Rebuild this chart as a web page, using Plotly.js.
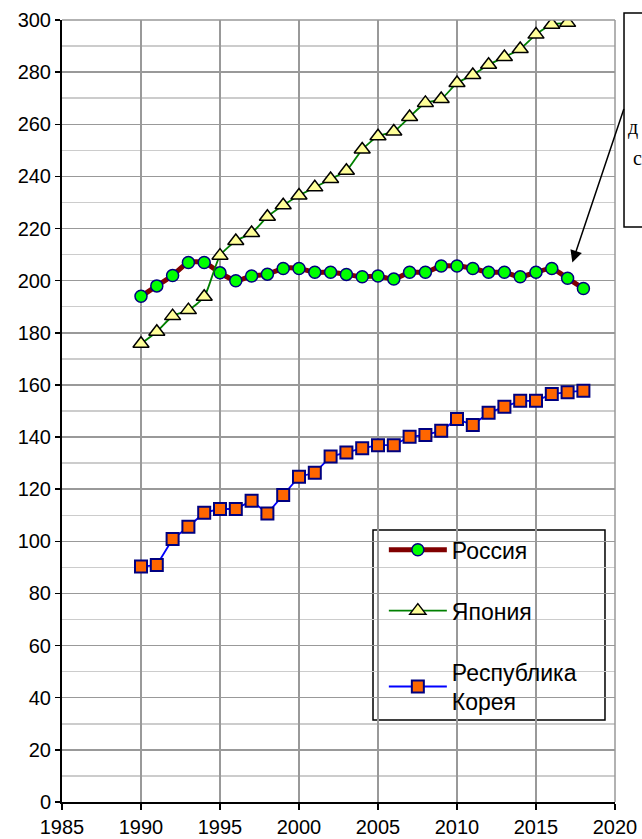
<!DOCTYPE html>
<html>
<head>
<meta charset="utf-8">
<script src="https://cdn.plot.ly/plotly-3.0.1.min.js"></script>
<style>html,body{margin:0;padding:0;background:#fff;}#chart{width:642px;height:839px;}</style>
</head>
<body>
<div id="chart"></div>
<script>
const years = [1990,1991,1992,1993,1994,1995,1996,1997,1998,1999,2000,2001,2002,2003,2004,2005,2006,2007,2008,2009,2010,2011,2012,2013,2014,2015,2016,2017,2018];
const russia = [194,198,202,207,207,203,200,201.8,202.5,204.7,204.7,203.2,203.2,202.4,201.5,201.8,200.6,203.2,203.2,205.6,205.6,204.7,203.2,203.2,201.5,203.2,204.7,200.9,197];
const japanYears = [1990,1991,1992,1993,1994,1995,1996,1997,1998,1999,2000,2001,2002,2003,2004,2005,2006,2007,2008,2009,2010,2011,2012,2013,2014,2015,2016,2017];
const japan = [175.8,180.4,186.4,188.7,193.8,209.6,215.2,218.3,224.5,228.9,232.7,235.8,239,242.2,250.3,255.4,257.2,262.8,268.2,269.7,275.8,278.9,282.8,285.8,288.9,294.4,298.2,298.9];
const korea = [90.3,90.9,100.9,105.6,111,112.4,112.4,115.6,110.7,117.8,124.8,126.3,132.5,134.1,135.7,136.9,136.9,140.1,140.8,142.4,146.9,144.6,149.3,151.6,153.9,153.9,156.5,157.2,157.8];
const names = ["Россия","Япония","Республика<br>Корея"];
const xTicks = [1985,1990,1995,2000,2005,2010,2015,2020];
const yTicks = [0,20,40,60,80,100,120,140,160,180,200,220,240,260,280,300];

const traces = [
  {x: years, y: russia, name: names[0], type: 'scatter', mode: 'lines+markers', legendgroup: 'a',
   line: {color: '#800000', width: 5, shape: 'spline', smoothing: 0.6},
   marker: {symbol: 'circle', size: 12, color: '#00ff00', line: {color: '#000080', width: 1.5}}},
  {x: japanYears, y: japan, name: names[1], type: 'scatter', mode: 'lines+markers', legendgroup: 'b',
   line: {color: '#008000', width: 1.8, shape: 'spline', smoothing: 0.6},
   marker: {symbol: 'triangle-up', size: 14, color: '#ffff99', line: {color: '#000000', width: 1.5}}},
  {x: years, y: korea, name: names[2], type: 'scatter', mode: 'lines+markers', legendgroup: 'c',
   line: {color: '#0000ff', width: 1.8},
   marker: {symbol: 'square', size: 12, color: '#ff6600', line: {color: '#000080', width: 2}}}
];

const sansFont = 'Liberation Sans, Arial, sans-serif';
const layout = {
  width: 642, height: 839,
  margin: {l: 62, r: 27, t: 20, b: 37},
  paper_bgcolor: '#ffffff', plot_bgcolor: '#ffffff',
  font: {family: sansFont, size: 20, color: '#000'},
  showlegend: true,
  legend: {x: 0.582, y: 0.350, xanchor: 'left', yanchor: 'top', bgcolor: 'rgba(0,0,0,0)',
           borderwidth: 0, traceorder: 'grouped', tracegroupgap: 28,
           itemwidth: 58, font: {size: 23, family: sansFont}},
  xaxis: {range: [1985, 2020], tickvals: xTicks, ticktext: xTicks.map(String), showgrid: true,
          gridcolor: '#999999', gridwidth: 1.5, zeroline: false, showline: true, linecolor: '#000',
          linewidth: 2, ticks: 'outside', ticklen: 6, tickcolor: '#000', tickwidth: 1.5,
          fixedrange: true},
  yaxis: {range: [0, 300], tickvals: yTicks, ticktext: yTicks.map(String), showgrid: true,
          gridcolor: '#999999', gridwidth: 1.5, zeroline: false, showline: true, linecolor: '#000',
          linewidth: 2, ticks: 'outside', ticklen: 5, tickcolor: '#000', tickwidth: 1.5,
          minor: {dtick: 10, showgrid: true, gridcolor: '#cccccc', gridwidth: 1.5, ticks: ''},
          fixedrange: true},
  shapes: [
    {type: 'line', xref: 'paper', yref: 'paper', x0: 0, x1: 1, y0: 1, y1: 1, line: {color: '#999999', width: 1.5}},
    {type: 'line', xref: 'paper', yref: 'paper', x0: 1, x1: 1, y0: 0, y1: 1, line: {color: '#999999', width: 1.5}},
    {type: 'rect', xref: 'paper', yref: 'paper', x0: 0.5624, x1: 0.9819, y0: 0.1049, y1: 0.3478,
     layer: 'between', line: {color: '#000', width: 1.5}, fillcolor: '#ffffff'},
    {type: 'rect', xref: 'paper', yref: 'paper', x0: 1.0163, x1: 1.2, y0: 0.7353, y1: 1.009,
     line: {color: '#000', width: 1.5}, fillcolor: 'rgba(255,255,255,0)'}
  ],
  annotations: [
    {x: 2017.3, y: 207, xref: 'x', yref: 'y', ax: 52, ay: -155, showarrow: true, arrowhead: 2,
     arrowsize: 1.6, arrowwidth: 1.5, arrowcolor: '#000', text: ''},
    {x: 1.0199, y: 0.862, xref: 'paper', yref: 'paper', xanchor: 'left', yanchor: 'middle', showarrow: false,
     text: 'д', font: {family: 'Liberation Serif, Times New Roman, serif', size: 20, color: '#000'}},
    {x: 1.029, y: 0.8235, xref: 'paper', yref: 'paper', xanchor: 'left', yanchor: 'middle', showarrow: false,
     text: 'с', font: {family: 'Liberation Serif, Times New Roman, serif', size: 20, color: '#000'}}
  ]
};

Plotly.newPlot('chart', traces, layout, {displayModeBar: false, staticPlot: true});
</script>
</body>
</html>
